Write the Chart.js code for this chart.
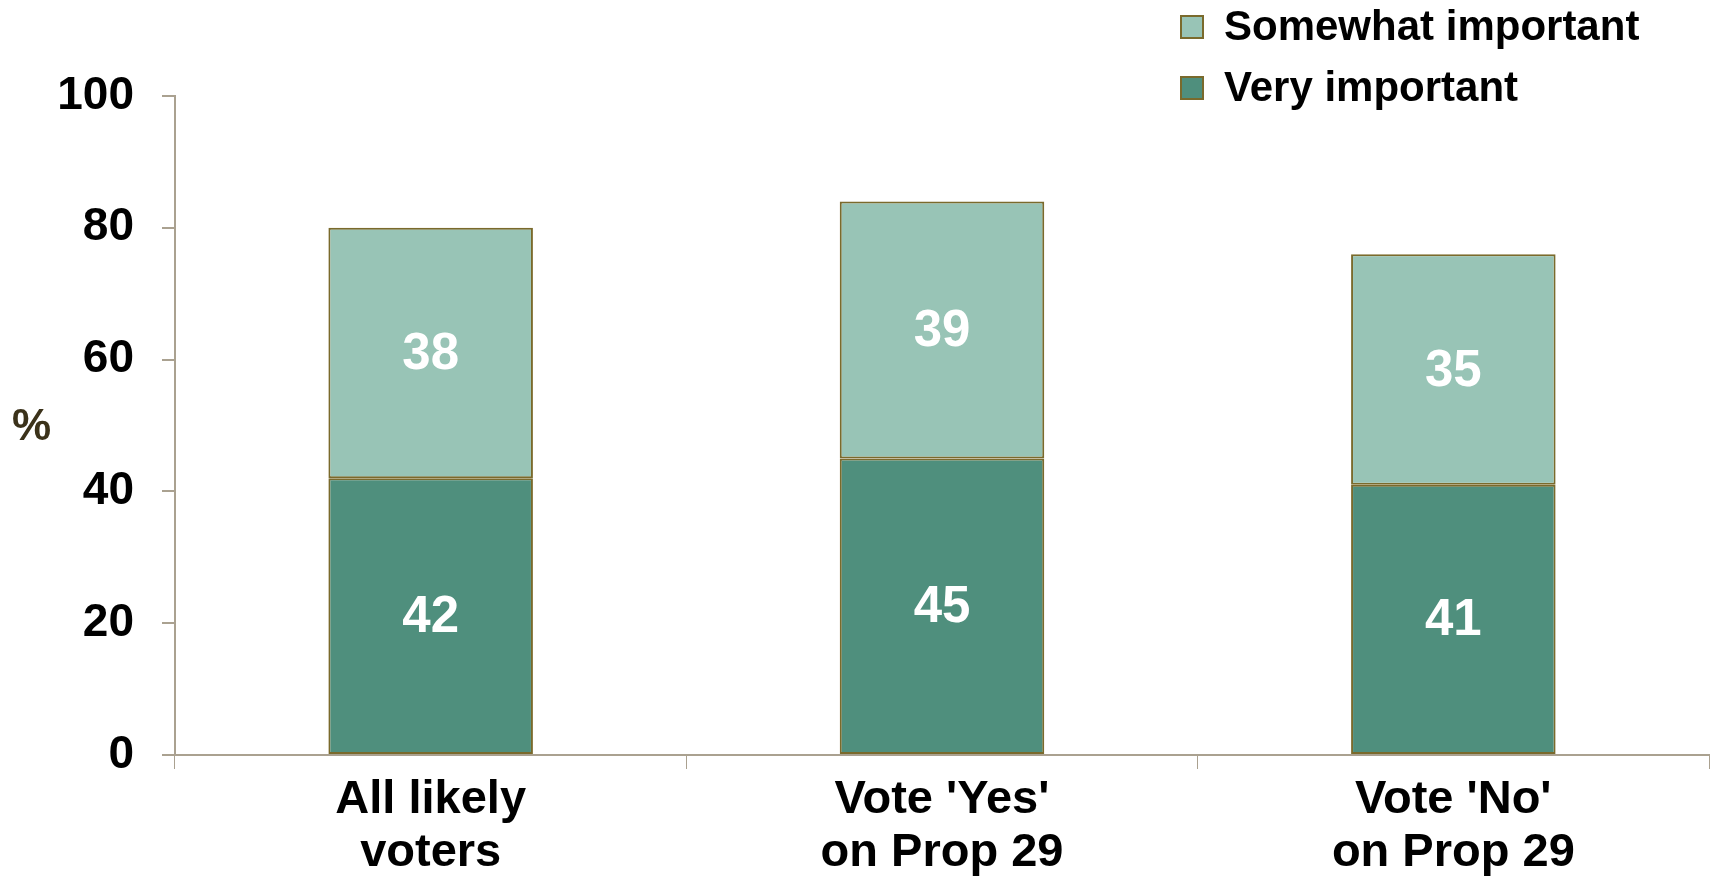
<!DOCTYPE html>
<html>
<head>
<meta charset="utf-8">
<script src="https://cdn.jsdelivr.net/npm/chart.js@4/dist/chart.umd.min.js"></script>
<style>
    html, body { margin: 0; padding: 0; background: #ffffff; }
    #contenedor { width: 1720px; height: 879px; }
</style>
</head>
<body>
<div id="contenedor"><canvas id="grafica" width="1720" height="879"></canvas></div>
<script>
// Datos de la grafica
const categorias = [['All likely', 'voters'], ["Vote 'Yes'", 'on Prop 29'], ["Vote 'No'", 'on Prop 29']];
const muyImportante = [42, 45, 41];
const algoImportante = [38, 39, 35];
const etiquetasSerie = ['Very important', 'Somewhat important'];
const ticksY = [0, 20, 40, 60, 80, 100];

const fuente = "'Liberation Sans', Arial, sans-serif";
const colorBorde = '#7a6a2c';
const colorEje = '#aaa190';

// Escribe el valor dentro de cada segmento
const valoresBarras = {
    id: 'valoresBarras',
    afterDatasetsDraw(chart) {
        const ctx = chart.ctx;
        ctx.save();
        ctx.fillStyle = '#ffffff';
        ctx.font = 'bold 51px ' + fuente;
        ctx.textAlign = 'center';
        ctx.textBaseline = 'middle';
        chart.data.datasets.forEach((ds, i) => {
            chart.getDatasetMeta(i).data.forEach((bar, j) => {
                const centro = bar.getCenterPoint();
                ctx.fillText(ds.data[j], centro.x, centro.y + 2);
            });
        });
        ctx.restore();
    }
};

// Leyenda en columna arriba a la derecha y el simbolo %
const extras = {
    id: 'extras',
    afterDraw(chart) {
        const ctx = chart.ctx;
        const y = chart.scales.y;
        ctx.save();

        // simbolo % a la mitad del eje
        ctx.fillStyle = '#3b321a';
        ctx.font = 'bold 44px ' + fuente;
        ctx.textAlign = 'left';
        ctx.textBaseline = 'middle';
        ctx.fillText('%', 12, y.getPixelForValue(50) + 2);

        // leyenda (de arriba hacia abajo: Somewhat, Very)
        const items = chart.data.datasets.slice().reverse();
        ctx.font = 'bold 42px ' + fuente;
        items.forEach((ds, i) => {
            const cy = 27 + i * 61;
            ctx.fillStyle = ds.backgroundColor;
            ctx.fillRect(1181, cy - 11, 22, 22);
            ctx.strokeStyle = colorBorde;
            ctx.lineWidth = 2;
            ctx.strokeRect(1181, cy - 11, 22, 22);
            ctx.fillStyle = '#000000';
            ctx.fillText(ds.label, 1224, cy + 1);
        });
        ctx.restore();
    }
};

const ctx = document.getElementById('grafica').getContext('2d');
let myChart = new Chart(ctx, {
    type: 'bar',
    data: {
        labels: categorias,
        datasets: [{
            label: etiquetasSerie[0],
            data: muyImportante,
            backgroundColor: '#4f8f7d',
            borderColor: colorBorde,
            borderWidth: 2,
            borderSkipped: false,
            barPercentage: 0.4,
            categoryPercentage: 1
        }, {
            label: etiquetasSerie[1],
            data: algoImportante,
            backgroundColor: '#98c4b6',
            borderColor: colorBorde,
            borderWidth: 2,
            borderSkipped: false,
            barPercentage: 0.4,
            categoryPercentage: 1
        }]
    },
    options: {
        responsive: false,
        animation: false,
        layout: {
            padding: { top: 96, right: 11, left: 0, bottom: 0 }
        },
        plugins: {
            legend: { display: false },
            tooltip: { enabled: false }
        },
        scales: {
            x: {
                stacked: true,
                border: { color: colorEje, width: 2 },
                grid: {
                    offset: true,
                    drawOnChartArea: false,
                    color: colorEje,
                    lineWidth: 1,
                    tickLength: 14
                },
                ticks: {
                    color: '#000000',
                    padding: 4,
                    maxRotation: 0,
                    font: { family: fuente, size: 47, weight: 'bold', lineHeight: 1.13 }
                },
                afterFit(scale) {
                    scale.height = 124;
                }
            },
            y: {
                stacked: true,
                min: 0,
                max: 100,
                afterBuildTicks(scale) {
                    scale.ticks = ticksY.map(v => ({ value: v }));
                },
                border: { color: colorEje, width: 2 },
                grid: {
                    drawOnChartArea: false,
                    color: colorEje,
                    lineWidth: 2,
                    tickLength: 13
                },
                ticks: {
                    color: '#000000',
                    padding: 28,
                    font: { family: fuente, size: 46, weight: 'bold' }
                },
                afterFit(scale) {
                    scale.width = 175;
                }
            }
        }
    },
    plugins: [valoresBarras, extras]
});
</script>
</body>
</html>
